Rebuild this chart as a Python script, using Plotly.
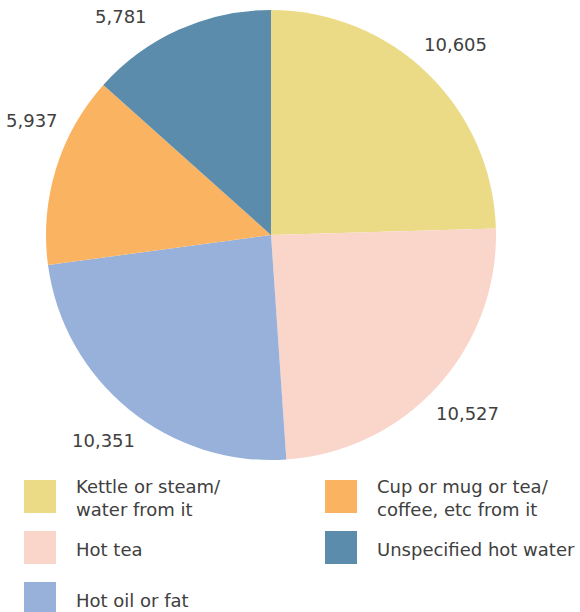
import math
import plotly.graph_objects as go

categories = ["Kettle or steam/<br>water from it", "Hot tea", "Hot oil or fat",
              "Cup or mug or tea/<br>coffee, etc from it", "Unspecified hot water"]
values = [10605, 10527, 10351, 5937, 5781]
colors = ["#EBDB87", "#FAD5CA", "#97B1DB", "#FAB360", "#5C8CAB"]

W, H = 580, 612
FONT = "DejaVu Sans"
TXT = "#404040"

# pie box in pixels
PIE_L, PIE_R, PIE_T, PIE_B = 46, 496, 10, 460
CX, CY = (PIE_L + PIE_R) / 2, (PIE_T + PIE_B) / 2
LABEL_R = 265
LABEL_SIZE = 18
EDGE = 6


def px(x):
    return x / W


def py(y):
    return 1 - y / H


fig = go.Figure(go.Pie(
    labels=categories, values=values, sort=False, direction="clockwise", rotation=0,
    marker=dict(colors=colors, line=dict(width=0)),
    textinfo="none",
    domain=dict(x=[px(PIE_L), px(PIE_R)], y=[py(PIE_B), py(PIE_T)]),
    showlegend=False, hoverinfo="label+value",
))

annotations = []

# value labels outside the pie, at the slice mid-angle (slid along the circle to stay in frame)
total = sum(values)
acc = 0
for v in values:
    th = 2 * math.pi * (acc + v / 2) / total
    acc += v
    txt = f"{v:,}"
    hw = 0.58 * LABEL_SIZE * len(txt) / 2
    hh = LABEL_SIZE * 0.6
    x = CX + LABEL_R * math.sin(th)
    y = CY - LABEL_R * math.cos(th)
    if x - hw < EDGE:
        x = EDGE + hw
        y = CY - math.copysign(math.sqrt(max(LABEL_R ** 2 - (x - CX) ** 2, 0)), math.cos(th))
    if x + hw > W - EDGE:
        x = W - EDGE - hw
        y = CY - math.copysign(math.sqrt(max(LABEL_R ** 2 - (x - CX) ** 2, 0)), math.cos(th))
    if y - hh < EDGE:
        y = EDGE + hh
        x = CX + math.copysign(math.sqrt(max(LABEL_R ** 2 - (CY - y) ** 2, 0)), math.sin(th))
    annotations.append(dict(xref="paper", yref="paper", x=px(x), y=py(y), text=txt,
                            showarrow=False, xanchor="center", yanchor="middle",
                            font=dict(family=FONT, size=LABEL_SIZE, color=TXT)))

# manual legend (two columns)
legend_order = [0, 3, 1, 4, 2]
shapes = []
for k, idx in enumerate(legend_order):
    col, row = k % 2, k // 2
    x0 = 24 if col == 0 else 325
    y0 = 480 + row * 51
    shapes.append(dict(type="rect", xref="paper", yref="paper",
                       x0=px(x0), x1=px(x0 + 32), y0=py(y0), y1=py(y0 + 33),
                       fillcolor=colors[idx], line=dict(width=0)))
    annotations.append(dict(xref="paper", yref="paper", x=px(x0 + 50), y=py(y0 + 18),
                            text=categories[idx], showarrow=False, xanchor="left", yanchor="middle",
                            align="left", font=dict(family=FONT, size=18, color=TXT)))

fig.update_layout(width=W, height=H, margin=dict(l=0, r=0, t=0, b=0),
                  paper_bgcolor="white", plot_bgcolor="white",
                  shapes=shapes, annotations=annotations,
                  font=dict(family=FONT, color=TXT))
fig.write_html("out.html", config={"displayModeBar": False},
               post_script="document.body.style.margin='0';document.body.style.overflow='hidden';")
